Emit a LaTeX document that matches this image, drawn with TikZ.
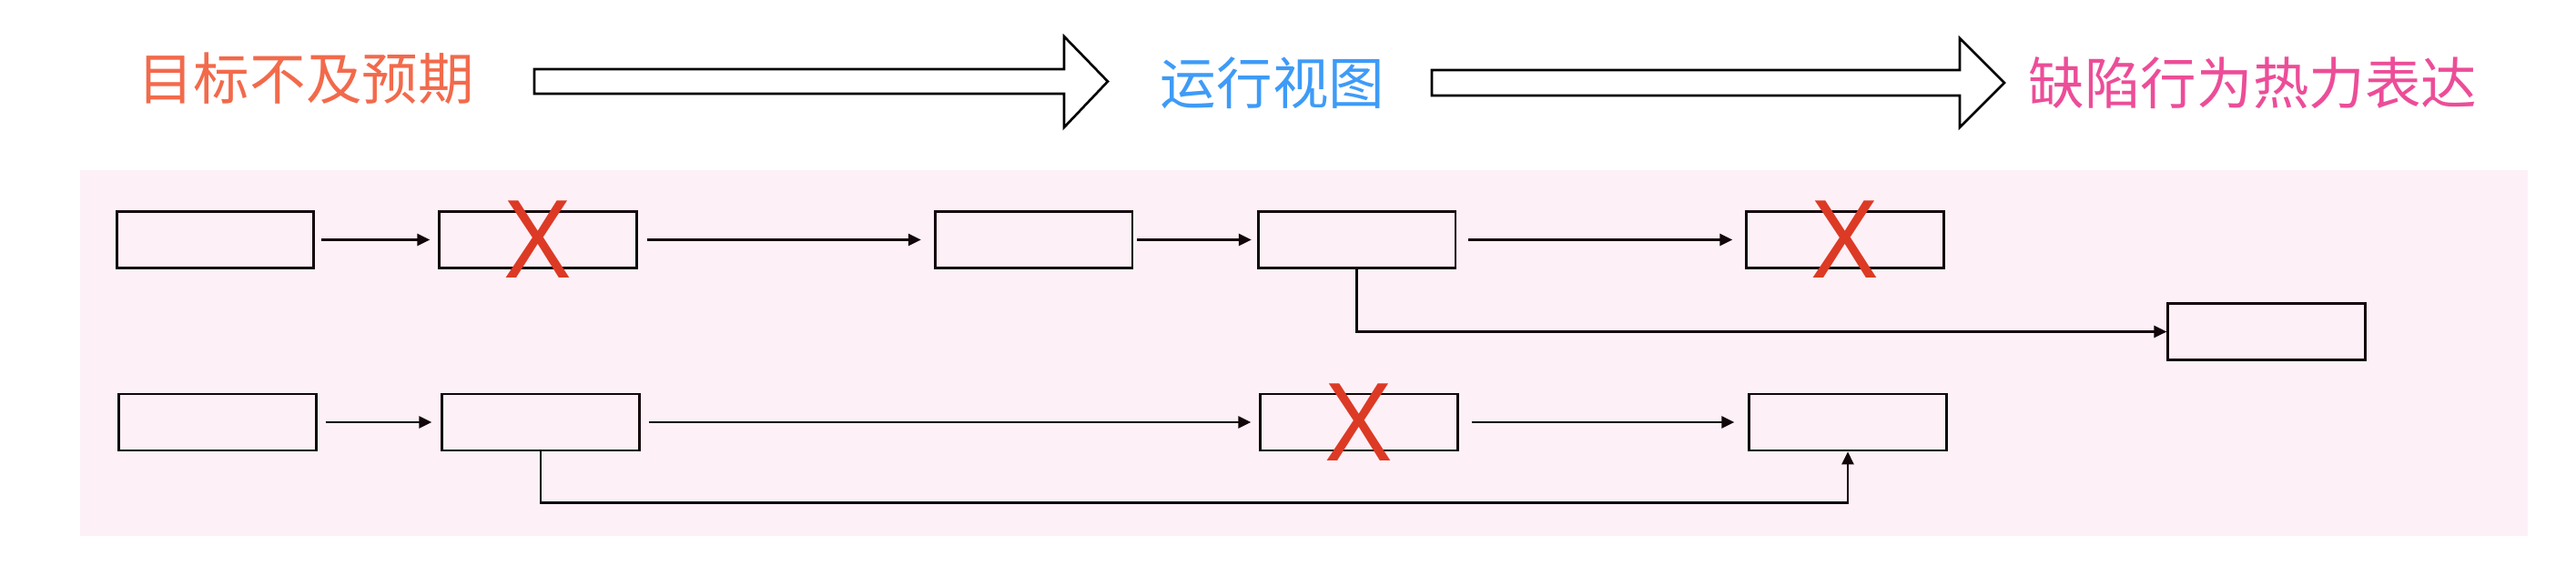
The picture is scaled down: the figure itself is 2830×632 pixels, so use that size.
\documentclass[tikz,border=0pt]{standalone}
\usepackage{fontspec}
\usepackage{graphicx}
\newfontfamily\cjk{Noto Sans CJK SC}
\newfontfamily\xfont{Liberation Sans}
\usetikzlibrary{arrows.meta}
\definecolor{bgpink}{HTML}{FDF0F7}
\definecolor{boxline}{HTML}{12060A}
\definecolor{crossred}{HTML}{DC3A25}
\definecolor{goalorange}{HTML}{F26A4B}
\definecolor{viewblue}{HTML}{3E9BF7}
\definecolor{heatpink}{HTML}{EC4D98}

\begin{document}
\begin{tikzpicture}[x=0.01cm, y=-0.01cm,
  stage/.style={draw=boxline, line width=0.75pt, minimum width=2.165cm, minimum height=0.62cm, inner sep=0pt},
  flow/.style={draw=boxline, line width=0.75pt, -{Triangle[length=0.14cm,width=0.13cm]}},
  link/.style 2 args={flow, shorten <=#1cm, shorten >=#2cm},
  fat/.style={draw=black, line width=0.75pt, fill=white, line join=miter},
  title/.style={font=\cjk\fontsize{17.5pt}{21pt}\selectfont, inner sep=0pt},
  cross/.style={text=crossred, font=\xfont\fontsize{35pt}{35pt}\selectfont, inner sep=0pt}]

\useasboundingbox (0,0) rectangle (2830,632);

% Titles along the top
\node[title, text=goalorange] (goal) at (336,86) {目标不及预期};
\node[title, text=viewblue] (view) at (1398,91) {运行视图};
\node[title, text=heatpink] (heat) at (2475,91) {缺陷行为热力表达};

% Hollow block arrows between the titles
\draw[fat] (587,76) -- (1169,76) -- (1169,40) -- (1217,89.5) -- (1169,140) -- (1169,103) -- (587,103) -- cycle;
\draw[fat] (1573,77) -- (2153,77) -- (2153,42) -- (2202,91) -- (2153,140) -- (2153,105) -- (1573,105) -- cycle;

% Pink panel
\fill[bgpink] (88,187) rectangle (2777,589);

% First chain
\node[stage] (top1) at (236.5,263.5) {};
\node[stage] (top2) at (591,263.5) {};
\node[stage] (top3) at (1135.5,263.5) {};
\node[stage] (top4) at (1490.5,263.5) {};
\node[stage] (top5) at (2027,263.5) {};
\node[stage] (side) at (2490,364.5) {};

\draw[link={0.07}{0.09}] (top1) -- (top2);
\draw[link={0.1}{0.14}] (top2) -- (top3);
\draw[link={0.04}{0.06}] (top3) -- (top4);
\draw[link={0.13}{0.14}] (top4) -- (top5);
\draw[flow] (top4.south) |- (side.west);

% Second chain
\node[stage] (low1) at (239,464) {};
\node[stage] (low2) at (594,464) {};
\node[stage] (low3) at (1493,464) {};
\node[stage] (low4) at (2030,464) {};

\draw[link={0.09}{0.1}] (low1) -- (low2);
\draw[link={0.09}{0.09}] (low2) -- (low3);
\draw[link={0.14}{0.15}] (low3) -- (low4);
\draw[flow] (low2.south) -- ++(0,56) -| (low4.south);

% Crossed out steps
\node[cross] (cut1) at (top2) {\scalebox{0.91}[1]{X}};
\node[cross] (cut2) at (top5) {\scalebox{0.91}[1]{X}};
\node[cross] (cut3) at (low3) {\scalebox{0.91}[1]{X}};

\end{tikzpicture}
\end{document}
